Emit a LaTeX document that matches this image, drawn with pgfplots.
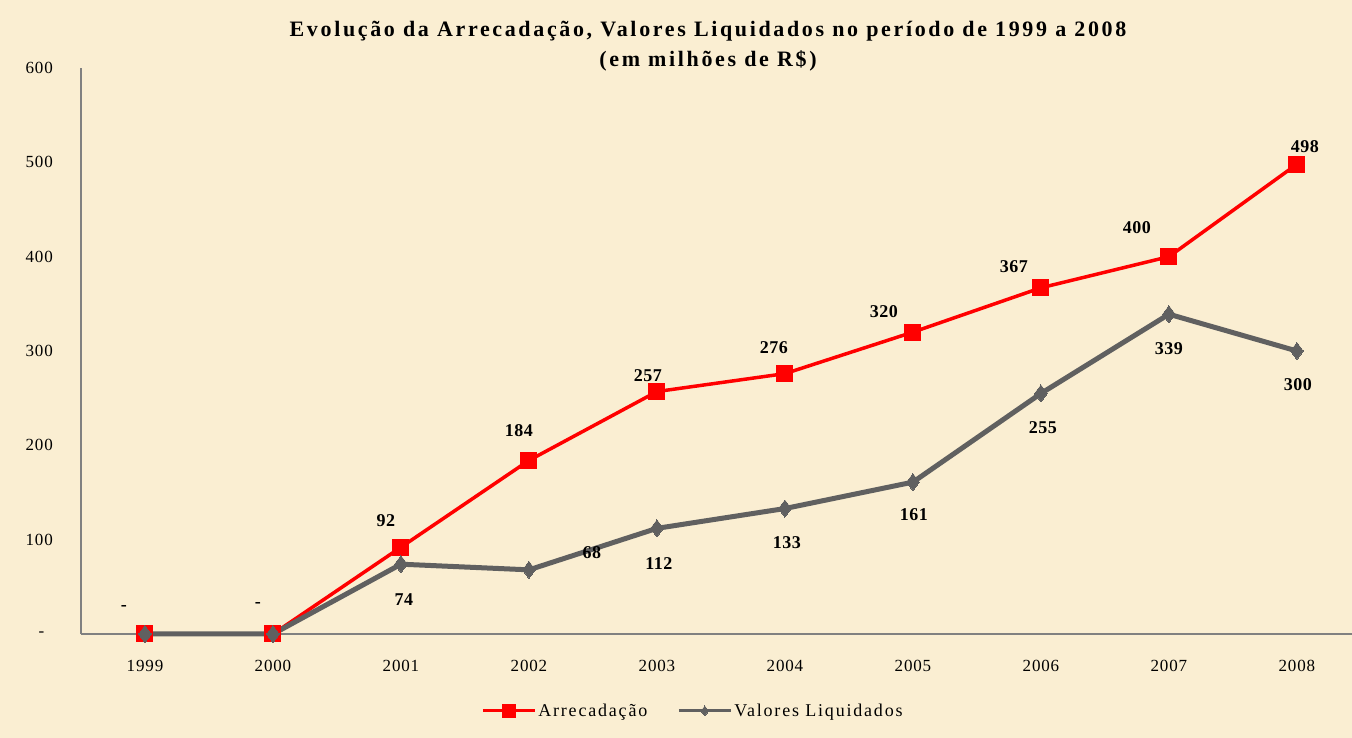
\documentclass[border=0pt]{standalone}
\usepackage{fontspec}
\setmainfont{Liberation Serif}
\usepackage{pgfplots}
\usepackage{pgfplotstable}
\pgfplotsset{compat=1.18}
\newfontfamily\ttlfont[LetterSpace=12]{Liberation Serif}
\newfontfamily\tickfont[LetterSpace=5]{Liberation Serif}
\newfontfamily\lblfont[LetterSpace=3]{Liberation Serif}
\newfontfamily\legfont[LetterSpace=10]{Liberation Serif}
\definecolor{bg}{RGB}{250,238,210}
\definecolor{redline}{RGB}{255,0,0}
\definecolor{grayline}{RGB}{96,96,96}
\definecolor{axisgray}{RGB}{128,128,128}

\pgfplotstableread{
x y lab lx ly
0 0 {-} -21 26
1 0 {-} -15 29
2 92 92 -15 27
3 184 184 -10 30
4 257 257 -9 16
5 276 276 -11 26
6 320 320 -29 21
7 367 367 -27 21
8 400 400 -32 29
9 498 498 8 18
}\arr

\pgfplotstableread{
x y lab lx ly
0 0 {} 0 0
1 0 {} 0 0
2 74 74 3 -35
3 68 68 63 17
4 112 112 2 -35
5 133 133 2 -34
6 161 161 1 -33
7 255 255 2 -34
8 339 339 0 -34
9 300 300 1 -34
}\val

\pgfplotsset{
  lblstyle/.style={
    nodes near coords,
    point meta=explicit symbolic,
    visualization depends on={\thisrow{lx} \as \lblx},
    visualization depends on={\thisrow{ly} \as \lbly},
    every node near coord/.append style={anchor=center, inner sep=0pt, xshift=\lblx pt, yshift=\lbly pt,
       font=\lblfont\bfseries\fontsize{18}{20}\selectfont, text=black},
  }
}

\begin{document}
\begin{tikzpicture}
\fill[bg] (0pt,0pt) rectangle (1352pt,738pt);
\useasboundingbox (0pt,0pt) rectangle (1352pt,738pt);
\node[align=center, font=\ttlfont\bfseries\fontsize{22}{30}\selectfont, inner sep=0pt] at (708pt,692pt)
  {Evolução da Arrecadação, Valores Liquidados no período de 1999 a 2008\\(em milhões de R\$)};
\begin{axis}[
  at={(81pt,104pt)}, anchor=south west,
  scale only axis, width=1271pt, height=566pt,
  xmin=-0.5, xmax=9.43, ymin=0, ymax=600,
  axis x line*=bottom, axis y line*=left,
  axis line style={-, draw=axisgray, line width=1.6pt},
  major tick length=0pt,
  xtick={0,...,9},
  xticklabels={1999,2000,2001,2002,2003,2004,2005,2006,2007,2008},
  ytick={0,100,...,600},
  yticklabels={-\hphantom{0},100,200,300,400,500,600},
  /pgf/number format/assume math mode=true,
  ticklabel style={font=\tickfont\fontsize{17}{20}\selectfont, inner sep=0pt},
  yticklabel style={anchor=east, xshift=-28pt},
  xticklabel style={anchor=north, yshift=-26pt},
  clip=false,
  legend style={at={(axis description cs:0.4815,-0.136)}, anchor=center, draw=none, fill=none,
     font=\legfont\fontsize{18}{20}\selectfont, /tikz/every even column/.append style={column sep=28pt}},
  legend columns=2,
  legend image code/.code={\draw[mark repeat=2,mark phase=2,#1] plot coordinates {(0pt,0pt) (26pt,0pt) (52pt,0pt)};},
]
\addplot[lblstyle, color=redline, line width=3.5pt, mark=square*, mark size=8pt, mark options={solid, fill=redline, draw=redline, line width=0pt},
  legend image post style={line width=3pt, mark size=6.5pt}]
  table[x=x, y=y, meta=lab] {\arr};
\addlegendentry{Arrecadação}
\addplot[lblstyle, color=grayline, line width=5pt, mark=diamond*, mark size=8.5pt, mark options={solid, fill=grayline, draw=grayline, line width=0pt},
  legend image post style={line width=3pt, mark size=5pt}]
  table[x=x, y=y, meta=lab] {\val};
\addlegendentry{Valores Liquidados}
\end{axis}
\end{tikzpicture}
\end{document}
